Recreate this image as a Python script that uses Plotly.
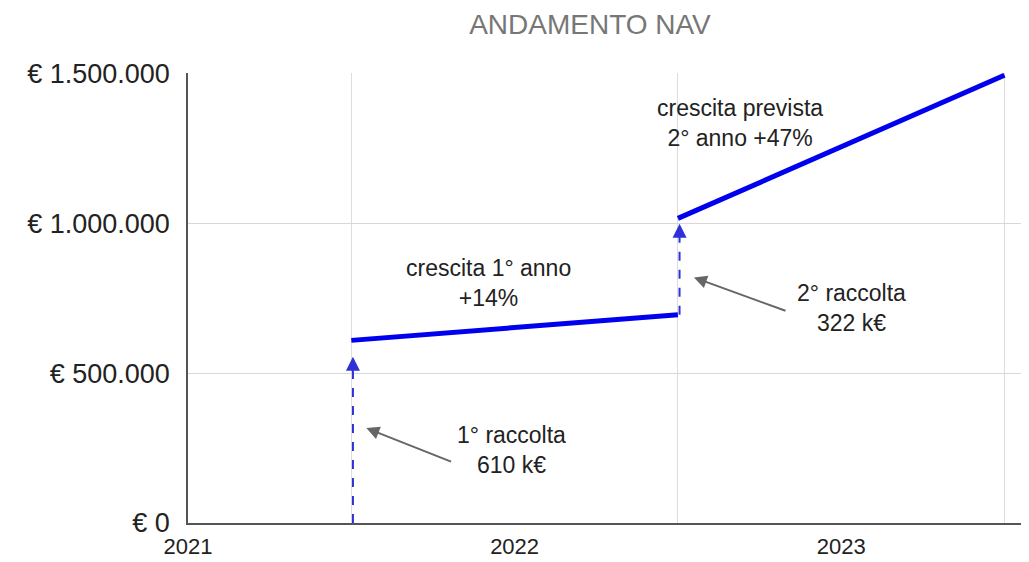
import plotly.graph_objects as go

# ---- data ----
years_seg1 = [2021.5, 2022.5]
nav_seg1 = [610000, 695400]
years_seg2 = [2022.5, 2023.5]
nav_seg2 = [1017400, 1495578]
raccolta_x = [2021.5, 2022.5]
raccolta_from = [0, 695400]
raccolta_to = [610000, 1017400]

y_tickvals = [0, 500000, 1000000, 1500000]
y_ticktext = ["€ 0", "€ 500.000", "€ 1.000.000", "€ 1.500.000"]
x_tickvals = [2021, 2022, 2023]
x_ticktext = ["2021", "2022", "2023"]

labels = [
    ("crescita 1° anno<br>+14%", 2021.92, 800000),
    ("crescita prevista<br>2° anno +47%", 2022.69, 1336000),
    ("1° raccolta<br>610 k€", 2021.99, 243000),
    ("2° raccolta<br>322 k€", 2023.03, 717000),
]
pointers = [  # (head_x, head_y, tail_x, tail_y)
    (2021.546, 317000, 2021.81, 203000),
    (2022.549, 820000, 2022.834, 707000),
]

FONT = "Liberation Sans, Arial, sans-serif"
BLUE = "#0000ee"
DASH_BLUE = "#3030d8"

fig = go.Figure()

fig.add_trace(go.Scatter(x=years_seg1, y=nav_seg1, mode="lines",
                         line=dict(color=BLUE, width=5), hoverinfo="skip"))
fig.add_trace(go.Scatter(x=years_seg2, y=nav_seg2, mode="lines",
                         line=dict(color=BLUE, width=5), hoverinfo="skip"))

annotations = []
gaps = [55000, 18000]
for xr, y0, y1, g in zip(raccolta_x, raccolta_from, raccolta_to, gaps):
    tip = y1 - g
    fig.add_trace(go.Scatter(x=[xr + 0.005, xr + 0.005], y=[y0, tip - 20000], mode="lines",
                             line=dict(color=DASH_BLUE, width=2, dash="dash"),
                             hoverinfo="skip"))
    annotations.append(dict(x=xr + 0.005, y=tip, ax=xr + 0.005, ay=tip - 40000,
                            xref="x", yref="y", axref="x", ayref="y",
                            showarrow=True, arrowhead=2, arrowsize=1.4, arrowwidth=2,
                            arrowcolor=DASH_BLUE, text=""))

for hx, hy, tx, ty in pointers:
    annotations.append(dict(x=hx, y=hy, ax=tx, ay=ty,
                            xref="x", yref="y", axref="x", ayref="y",
                            showarrow=True, arrowhead=2, arrowsize=1.3, arrowwidth=2,
                            arrowcolor="#666666", text=""))

for txt, x, y in labels:
    annotations.append(dict(x=x, y=y, xref="x", yref="y", text=txt, showarrow=False,
                            align="center", font=dict(family=FONT, size=23, color="#222222")))

# the page body has an 8px default margin, so the figure is sized to fit the window
fig.update_layout(
    width=1021, height=554,
    margin=dict(l=180, r=0, t=65, b=39, autoexpand=False),
    paper_bgcolor="white", plot_bgcolor="white",
    showlegend=False,
    title=dict(text="ANDAMENTO NAV", x=0.570, xanchor="center", y=0.989, yanchor="top",
               pad=dict(t=0, b=0, l=0, r=0),
               font=dict(family=FONT, size=28, color="#777777")),
    annotations=annotations,
    xaxis=dict(range=[2021, 2023.575], tickvals=x_tickvals, ticktext=x_ticktext,
               showgrid=False, zeroline=False, automargin=False,
               showline=True, linecolor="#555555", linewidth=1.5,
               ticks="", ticklabelstandoff=3,
               tickfont=dict(family=FONT, size=22, color="#222222"),
               minor=dict(tick0=2021.5, dtick=1, showgrid=True, gridcolor="#dddddd", gridwidth=1)),
    yaxis=dict(range=[0, 1503000], tickvals=y_tickvals, ticktext=y_ticktext,
               showgrid=True, gridcolor="#d8d8d8", zeroline=False, automargin=False,
               showline=True, linecolor="#555555", linewidth=1.5,
               ticks="", ticklabelstandoff=11,
               tickfont=dict(family=FONT, size=27, color="#222222")),
)

fig.write_html("out.html")
